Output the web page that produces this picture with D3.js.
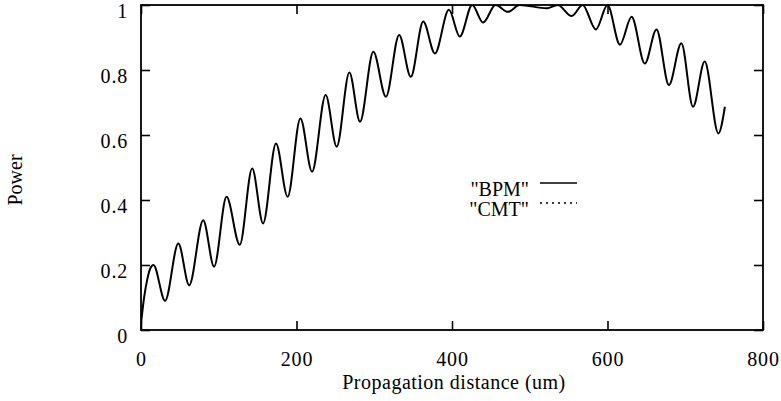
<!DOCTYPE html>
<html lang="en">
<head>
<meta charset="utf-8">
<title>Power vs propagation distance</title>
<script src="https://cdn.jsdelivr.net/npm/d3@7"></script>
<style>
	body { margin: 0; background: #fff; }
	text { font-family: "Liberation Serif", "Times New Roman", serif; fill: #000; }
</style>
</head>
<body>
<script>

/*********************************************************************/
// Data

var distance = [0, 4, 8, 12, 16, 31, 48, 62, 80, 94, 110, 127, 143, 157, 173.6, 188.6,
	205, 220, 237.5, 251.7, 268, 281.7, 298.8, 315, 332, 347, 363, 378, 396, 410,
	426, 440, 456, 472, 487, 522, 536, 554, 568, 585, 600, 616, 631, 648, 663, 679,
	695, 710, 725, 742.6, 751];
var bpmPower = [0.02, 0.10, 0.155, 0.19, 0.20, 0.09, 0.266, 0.138, 0.338, 0.195, 0.41, 0.262, 0.497, 0.328, 0.574, 0.41,
	0.651, 0.487, 0.723, 0.564, 0.792, 0.641, 0.856, 0.718, 0.908, 0.779, 0.949, 0.851, 0.985, 0.903,
	1.0, 0.946, 1.0, 0.979, 1.0, 0.99, 1.0, 0.966, 1.0, 0.925, 1.0, 0.878, 0.964, 0.82, 0.925, 0.754,
	0.882, 0.687, 0.826, 0.605, 0.687];

var xTicks = [0, 200, 400, 600, 800];
var yTicks = [0, 0.2, 0.4, 0.6, 0.8, 1];
var legendNames = ['"BPM"', '"CMT"'];
var legendDash = ["none", "2,4"];

/*********************************************************************/
// Canvas

var width = 781, height = 401;
var margin = {top: 5, right: 18, bottom: 71, left: 141};
var w = width - margin.left - margin.right;
var h = height - margin.top - margin.bottom;

var svg = d3.select("body")
	.append("svg")
	.attr("width", width)
	.attr("height", height);

var g = svg.append("g")
	.attr("transform", "translate(" + margin.left + "," + margin.top + ")");

var x = d3.scaleLinear().domain([0, 800]).range([0, w]);
var y = d3.scaleLinear().domain([0, 1]).range([h, 0]);

/*********************************************************************/
// Axes (ticks point inward on all four sides)

function styleAxis(sel){
	sel.select(".domain").remove();
	sel.selectAll("line").attr("stroke", "#000").attr("stroke-width", 1.6);
	sel.selectAll("text").style("font-size", "20px").style("letter-spacing", "0.8px").attr("fill", "#000");
}

g.append("g")
	.attr("transform", "translate(0," + h + ")")
	.call(d3.axisBottom(x).tickValues(xTicks).tickFormat(d3.format("d")).tickSize(-9).tickPadding(22))
	.call(styleAxis);

g.append("g")
	.call(d3.axisTop(x).tickValues(xTicks).tickFormat("").tickSize(-9))
	.call(styleAxis);

g.append("g")
	.call(d3.axisLeft(y).tickValues(yTicks).tickFormat(d3.format("")).tickSize(-9).tickPadding(13))
	.call(styleAxis)
	.selectAll("text").attr("dy", "0.62em");

g.append("g")
	.attr("transform", "translate(" + w + ",0)")
	.call(d3.axisRight(y).tickValues(yTicks).tickFormat("").tickSize(-9))
	.call(styleAxis);

g.append("rect")
	.attr("width", w)
	.attr("height", h)
	.attr("fill", "none")
	.attr("stroke", "#000")
	.attr("stroke-width", 1.8);

/*********************************************************************/
// Curve

g.append("clipPath")
	.attr("id", "plotClip")
	.append("rect")
	.attr("width", w)
	.attr("height", h);

var line = d3.line()
	.x(function(d, i){ return x(distance[i]); })
	.y(function(d){ return y(d); })
	.curve(d3.curveMonotoneX);

g.append("path")
	.datum(bpmPower)
	.attr("clip-path", "url(#plotClip)")
	.attr("d", line)
	.attr("fill", "none")
	.attr("stroke", "#000")
	.attr("stroke-width", 2);

/*********************************************************************/
// Legend

var legend = svg.selectAll(".legendRow")
	.data(legendNames)
	.enter()
	.append("g")
	.attr("class", "legendRow")
	.attr("transform", function(d, i){ return "translate(0," + (196 + i*20) + ")"; });

legend.append("text")
	.attr("x", 529)
	.attr("text-anchor", "end")
	.style("font-size", "20px")
	.text(function(d){ return d; });

legend.append("line")
	.attr("x1", 540)
	.attr("x2", 577)
	.attr("y1", -13)
	.attr("y2", -13)
	.attr("stroke", "#000")
	.attr("stroke-width", 1.6)
	.attr("stroke-dasharray", function(d, i){ return legendDash[i]; });

/*********************************************************************/
// Axis titles

svg.append("text")
	.attr("x", margin.left + w/2 + 2)
	.attr("y", 389)
	.attr("text-anchor", "middle")
	.style("font-size", "20px")
	.style("letter-spacing", "0.5px")
	.text("Propagation distance (um)");

svg.append("text")
	.attr("transform", "translate(22,180) rotate(-90)")
	.attr("text-anchor", "middle")
	.style("font-size", "20px")
	.text("Power");

</script>
</body>
</html>
